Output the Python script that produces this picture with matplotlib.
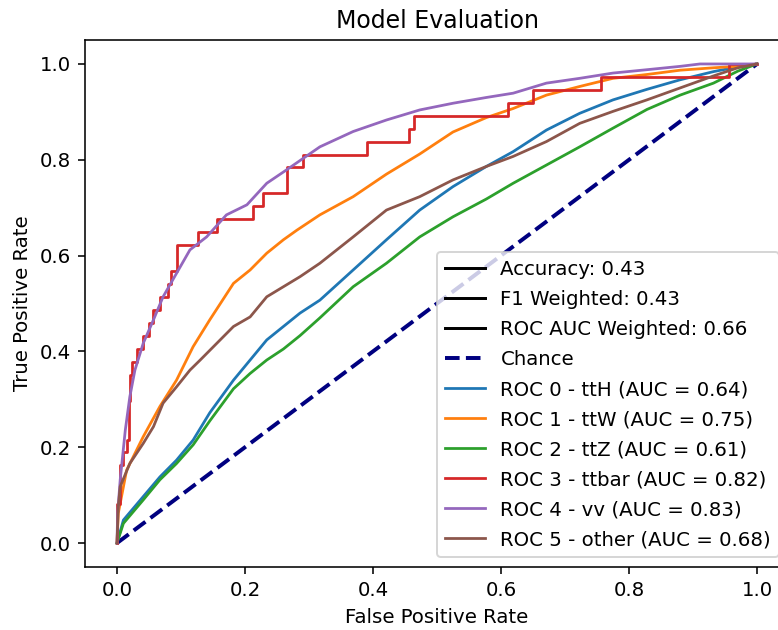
import matplotlib
matplotlib.use('Agg')
import matplotlib.pyplot as plt

# metric summary shown in the legend
accuracy = 0.43
f1_weighted = 0.43
roc_auc_weighted = 0.66

class_names = ['ttH', 'ttW', 'ttZ', 'ttbar', 'vv', 'other']
class_aucs = [0.64, 0.75, 0.61, 0.82, 0.83, 0.68]

# ROC curves (fpr, tpr)
fpr_tth = [0, 0.010, 0.041, 0.067, 0.093, 0.119, 0.145, 0.182, 0.208, 0.234, 0.260, 0.286, 0.317, 0.369,
           0.421, 0.473, 0.525, 0.577, 0.619, 0.671, 0.723, 0.775, 0.828, 0.880, 0.932, 0.970, 1.0]
tpr_tth = [0, 0.048, 0.097, 0.138, 0.173, 0.215, 0.272, 0.340, 0.382, 0.424, 0.452, 0.480, 0.507, 0.570,
           0.633, 0.695, 0.744, 0.786, 0.817, 0.862, 0.897, 0.925, 0.947, 0.967, 0.984, 0.994, 1.0]

fpr_ttw = [0, 0.002, 0.015, 0.041, 0.067, 0.093, 0.119, 0.145, 0.182, 0.208, 0.234, 0.260, 0.281, 0.317,
           0.369, 0.421, 0.473, 0.525, 0.577, 0.619, 0.671, 0.723, 0.775, 0.828, 0.880, 0.932, 0.970, 1.0]
tpr_ttw = [0, 0.062, 0.152, 0.222, 0.285, 0.340, 0.410, 0.466, 0.542, 0.570, 0.605, 0.633, 0.653, 0.685,
           0.723, 0.770, 0.812, 0.858, 0.888, 0.907, 0.935, 0.953, 0.970, 0.978, 0.987, 0.992, 0.995, 1.0]

fpr_ttz = [0, 0.010, 0.041, 0.067, 0.093, 0.119, 0.145, 0.182, 0.208, 0.234, 0.260, 0.286, 0.317, 0.369,
           0.421, 0.473, 0.525, 0.577, 0.619, 0.671, 0.723, 0.775, 0.828, 0.880, 0.932, 0.970, 1.0]
tpr_ttz = [0, 0.041, 0.090, 0.132, 0.166, 0.205, 0.255, 0.322, 0.354, 0.382, 0.405, 0.433, 0.470, 0.535,
           0.584, 0.639, 0.681, 0.718, 0.751, 0.789, 0.827, 0.866, 0.905, 0.935, 0.960, 0.985, 1.0]

fpr_ttbar = [0, 0, 0.004, 0.004, 0.009, 0.009, 0.015, 0.015, 0.018, 0.018, 0.021, 0.021, 0.023, 0.023,
             0.031, 0.031, 0.041, 0.041, 0.050, 0.050, 0.057, 0.057, 0.067, 0.067, 0.080, 0.080, 0.085,
             0.085, 0.093, 0.093, 0.127, 0.127, 0.156, 0.156, 0.212, 0.212, 0.228, 0.228, 0.265, 0.265,
             0.291, 0.291, 0.391, 0.391, 0.457, 0.457, 0.464, 0.464, 0.611, 0.611, 0.650, 0.650, 0.756,
             0.756, 0.957, 0.957, 1.0]
tpr_ttbar = [0, 0.081, 0.081, 0.162, 0.162, 0.189, 0.189, 0.216, 0.216, 0.297, 0.297, 0.351, 0.351, 0.378,
             0.378, 0.405, 0.405, 0.432, 0.432, 0.459, 0.459, 0.486, 0.486, 0.514, 0.514, 0.541, 0.541,
             0.568, 0.568, 0.622, 0.622, 0.649, 0.649, 0.676, 0.676, 0.703, 0.703, 0.730, 0.730, 0.784,
             0.784, 0.811, 0.811, 0.838, 0.838, 0.865, 0.865, 0.892, 0.892, 0.919, 0.919, 0.946, 0.946,
             0.973, 0.973, 1.0, 1.0]

fpr_vv = [0, 0.001, 0.005, 0.013, 0.020, 0.028, 0.041, 0.057, 0.072, 0.093, 0.114, 0.140, 0.171, 0.203,
          0.234, 0.265, 0.317, 0.369, 0.421, 0.473, 0.525, 0.577, 0.619, 0.671, 0.723, 0.775, 0.828, 0.880,
          0.911, 1.0]
tpr_vv = [0, 0.062, 0.132, 0.236, 0.305, 0.361, 0.417, 0.466, 0.514, 0.563, 0.612, 0.639, 0.685, 0.706,
          0.751, 0.779, 0.827, 0.859, 0.883, 0.904, 0.918, 0.930, 0.939, 0.960, 0.970, 0.981, 0.988, 0.995,
          1.0, 1.0]

fpr_other = [0, 0.002, 0.005, 0.020, 0.041, 0.057, 0.072, 0.093, 0.114, 0.130, 0.156, 0.182, 0.208, 0.234,
             0.260, 0.286, 0.317, 0.369, 0.421, 0.473, 0.525, 0.577, 0.619, 0.671, 0.723, 0.775, 0.828,
             0.880, 0.932, 0.970, 1.0]
tpr_other = [0, 0.076, 0.118, 0.166, 0.208, 0.243, 0.292, 0.326, 0.361, 0.382, 0.417, 0.452, 0.472, 0.514,
             0.535, 0.556, 0.584, 0.639, 0.695, 0.723, 0.758, 0.786, 0.807, 0.838, 0.876, 0.901, 0.925,
             0.950, 0.975, 0.992, 1.0]

curves = [(fpr_tth, tpr_tth), (fpr_ttw, tpr_ttw), (fpr_ttz, tpr_ttz),
          (fpr_ttbar, tpr_ttbar), (fpr_vv, tpr_vv), (fpr_other, tpr_other)]


def main():
    dpi = 142
    fig = plt.figure(figsize=(779 / dpi, 630 / dpi), dpi=dpi)
    # the right edge of the axes sits just outside the picture, as in the reference
    ax = fig.add_axes([85 / 779, 63 / 630, 704 / 779, 527 / 630])

    ax.plot([], [], color='black', label=f'Accuracy: {accuracy:.2f}')
    ax.plot([], [], color='black', label=f'F1 Weighted: {f1_weighted:.2f}')
    ax.plot([], [], color='black', label=f'ROC AUC Weighted: {roc_auc_weighted:.2f}')
    ax.plot([0, 1], [0, 1], color='navy', lw=2, linestyle='--', label='Chance')

    for i, ((fpr, tpr), name, auc) in enumerate(zip(curves, class_names, class_aucs)):
        ax.plot(fpr, tpr, color=f'C{i}', lw=1.4, label=f'ROC {i} - {name} (AUC = {auc:.2f})')

    ax.set_xlim(-0.05, 1.05)
    ax.set_ylim(-0.05, 1.05)
    ax.set_xlabel('False Positive Rate')
    ax.set_ylabel('True Positive Rate')
    ax.set_title('Model Evaluation')
    ax.legend(loc='lower right', labelspacing=0.56)

    fig.savefig('out.png', dpi=dpi)


if __name__ == '__main__':
    main()
